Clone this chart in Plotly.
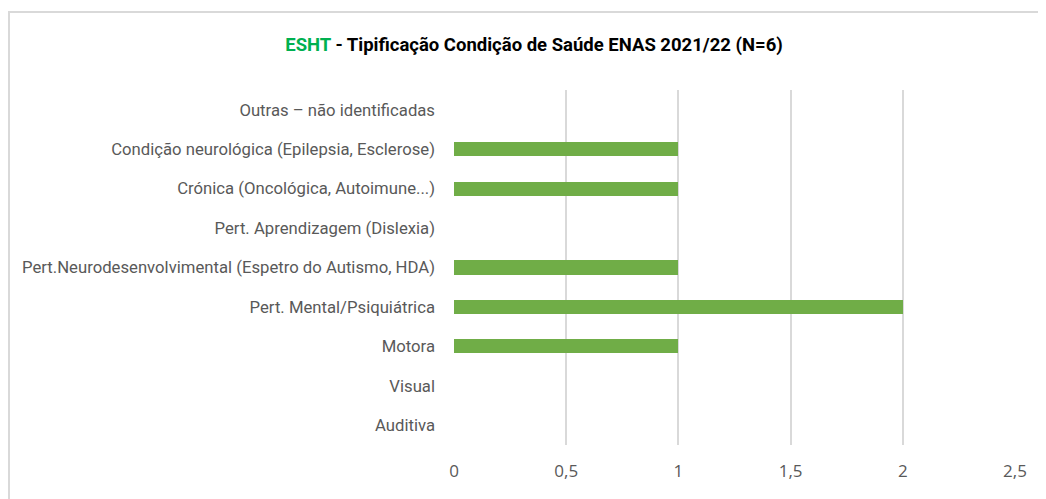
import plotly.graph_objects as go

categories = [
    "Auditiva",
    "Visual",
    "Motora",
    "Pert. Mental/Psiquiátrica",
    "Pert.Neurodesenvolvimental (Espetro do Autismo, HDA)",
    "Pert. Aprendizagem (Dislexia)",
    "Crónica (Oncológica, Autoimune...)",
    "Condição neurológica (Epilepsia, Esclerose)",
    "Outras – não identificadas",
]
values = [0, 0, 1, 2, 1, 0, 1, 1, 0]
x_ticks = [0, 0.5, 1, 1.5, 2, 2.5]

# page body has an 8px margin; compensate
OFF = 8
W, H = 1046, 499
L, R, T, B = 454 - OFF, 31 + OFF, 90 - OFF, 54 + OFF
pw = W - L - R
ph = H - T - B

fig = go.Figure()
fig.add_trace(go.Bar(
    y=categories, x=values, orientation="h",
    marker=dict(color="#70AD47", line=dict(width=0)),
    width=0.36,
))

fig.update_layout(
    width=W, height=H,
    margin=dict(l=L, r=R, t=T, b=B),
    paper_bgcolor="white", plot_bgcolor="white",
    separators=", ",
    showlegend=False,
    font=dict(family="Open Sans", color="#595959"),
    title=dict(
        text="<b><span style='color:#00B050'>ESHT</span> - Tipificação Condição de Saúde ENAS 2021/22 (N=6)</b>",
        x=(534 - OFF) / W, xanchor="center", y=1 - (45 - OFF) / H, yanchor="middle",
        font=dict(family="Roboto", size=18.5, color="#000000"),
    ),
    xaxis=dict(
        range=[0, 2.5], tickvals=x_ticks, showgrid=True, gridcolor="#D9D9D9",
        gridwidth=2, zeroline=False, showline=False,
        tickfont=dict(size=17, color="#595959", family="Open Sans"),
        ticklabelstandoff=14,
    ),
    yaxis=dict(
        categoryorder="array", categoryarray=categories,
        range=[-0.5, 8.5], showgrid=False, zeroline=False,
        tickfont=dict(size=16.7, color="#595959", family="Roboto"),
        ticklabelstandoff=18,
    ),
    bargap=0,
    shapes=[
        dict(type="rect", xref="paper", yref="paper",
             x0=(1 - L) / pw, x1=(W + 10 - L) / pw,
             y0=-(B + 10) / ph, y1=(T + ph - (12 - OFF)) / ph,
             line=dict(color="#D9D9D9", width=2), fillcolor="rgba(0,0,0,0)", layer="below"),
    ],
)

fig.write_html("out.html")
